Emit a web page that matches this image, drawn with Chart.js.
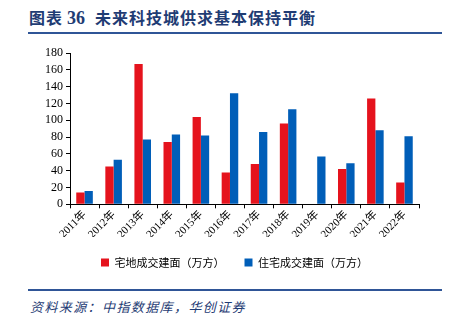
<!DOCTYPE html>
<html>
<head>
<meta charset="utf-8">
<script src="https://cdn.jsdelivr.net/npm/chart.js@4.4.0/dist/chart.umd.min.js"></script>
<style>
  body { margin: 0; background: #fff; width: 456px; height: 322px; overflow: hidden; position: relative; }
  #titre { position: absolute; left: 29px; top: 5px; font: bold 16px "Liberation Serif", "Noto Sans CJK SC", serif; color: #1f3c74; white-space: nowrap; letter-spacing: 1px; }
  .trait { position: absolute; left: 28px; width: 414px; height: 2px; background: #2f5597; }
  #source { position: absolute; left: 30px; top: 297px; font: italic 13px "Noto Sans CJK SC", sans-serif; color: #1f3c74; letter-spacing: 1.4px; white-space: nowrap; }
  #cadre { position: absolute; left: 0; top: -4px; width: 456px; height: 285px; }
</style>
</head>
<body>
<div id="titre">图表<span style="font-size:18px;margin-left:4px;letter-spacing:0">36</span><span style="margin-left:10px">未来科技城供求基本保持平衡</span></div>
<div class="trait" style="top:32px"></div>
<div id="cadre"><canvas id="myChart" width="456" height="282"></canvas></div>
<div class="trait" style="top:289px"></div>
<div id="source">资料来源：中指数据库，华创证券</div>
<script>
// données
const annees = ['2011年', '2012年', '2013年', '2014年', '2015年', '2016年', '2017年', '2018年', '2019年', '2020年', '2021年', '2022年'];
const terrain = [14, 45, 167, 74, 104, 38, 48, 96, 0, 42, 126, 26];
const logement = [16, 53, 77, 83, 82, 132, 86, 113, 57, 49, 88, 81];
const ticksY = [0, 20, 40, 60, 80, 100, 120, 140, 160, 180];

const policeSerif = "'Liberation Serif', 'Noto Sans CJK SC', serif";

// décaler la légende vers la droite comme sur l'original
const decalageLegende = {
    id: 'decalageLegende',
    afterLayout(chart) {
        chart.legend.left += 25;
        chart.legend.right += 25;
    }
};

const ctx = document.getElementById('myChart').getContext('2d');
const myChart = new Chart(ctx, {
    type: 'bar',
    data: {
        labels: annees,
        datasets: [{
            label: '宅地成交建面（万方）',
            data: terrain,
            backgroundColor: '#e5131d',
            categoryPercentage: 0.57,
            barPercentage: 1
        }, {
            label: '住宅成交建面（万方）',
            data: logement,
            backgroundColor: '#005eb8',
            categoryPercentage: 0.57,
            barPercentage: 1
        }]
    },
    options: {
        responsive: false,
        animation: false,
        layout: { padding: { left: 0, right: 37, top: 57, bottom: 0 } },
        plugins: {
            tooltip: { enabled: false },
            legend: {
                position: 'bottom',
                labels: {
                    boxWidth: 8,
                    boxHeight: 8,
                    padding: 20,
                    color: '#000',
                    font: { family: "'Noto Sans CJK SC', sans-serif", size: 11 }
                }
            }
        },
        scales: {
            x: {
                afterFit: (scale) => { scale.height -= 4; },
                grid: { display: true, offset: true, drawOnChartArea: false, tickLength: 4, color: '#000' },
                border: { color: '#000', width: 1 },
                ticks: {
                    color: '#000',
                    autoSkip: false,
                    maxRotation: 45,
                    minRotation: 45,
                    padding: 0,
                    font: { family: policeSerif, size: 11 }
                }
            },
            y: {
                min: 0,
                max: 180,
                afterFit: (scale) => { scale.width = 70; },
                afterBuildTicks: (scale) => { scale.ticks = ticksY.map(v => ({ value: v })); },
                grid: { display: true, drawOnChartArea: false, tickLength: 4, color: '#000' },
                border: { color: '#000', width: 1 },
                ticks: {
                    color: '#000',
                    autoSkip: false,
                    padding: 3,
                    font: { family: policeSerif, size: 12 }
                }
            }
        }
    },
    plugins: [decalageLegende]
});
</script>
</body>
</html>
